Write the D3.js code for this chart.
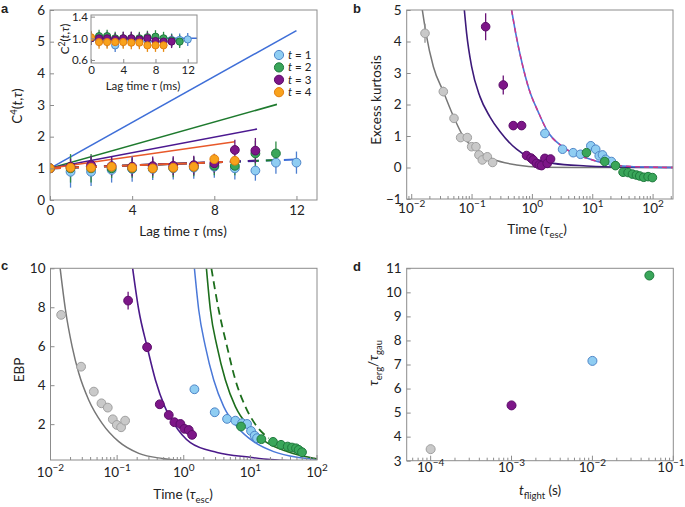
<!DOCTYPE html>
<html><head><meta charset="utf-8">
<script src="https://cdn.jsdelivr.net/npm/d3@7"></script>
<style>body{margin:0;background:#fff} text{font-family:Lato,"Open Sans",sans-serif;fill:#222}</style>
</head><body><svg id="c" width="685" height="507"></svg>
<script>
// ---------- Panel a data ----------
const lagTicks = [0,4,8,12];
const c4Ticks = [0,1,2,3,4,5,6];
const lagT1 = [0,1,2,3,4,5,6,7,8,9,10,11,12];
const c4T1 = [1.0,0.89,0.89,0.95,0.98,0.98,1.0,1.02,1.05,1.0,0.93,1.18,1.18];
const errT1 = [0,0.5,0.45,0.4,0.4,0.35,0.35,0.35,0.35,0.35,0.32,0.35,0.35];
const lagT2 = [0,1,2,3,4,5,6,7,8,9,10,11];
const c4T2 = [1.0,1.0,1.0,1.0,1.0,1.0,1.02,1.05,1.08,1.08,1.47,1.47];
const errT2 = [0,0.45,0.45,0.3,0.3,0.3,0.3,0.3,0.3,0.3,0.4,0.38];
const lagT3 = [0,1,2,3,4,5,6,7,8,9,10];
const c4T3 = [1.0,1.05,1.1,1.07,1.05,1.07,1.08,1.1,1.16,1.58,1.56];
const errT3 = [0,0.25,0.3,0.3,0.3,0.3,0.3,0.3,0.3,0.32,0.4];
const lagT4 = [0,1,2,3,4,5,6,7,8,9];
const c4T4 = [1.0,1.02,1.02,1.05,1.02,1.0,1.02,1.05,1.29,1.24];
const errT4 = [0,0.15,0.15,0.15,0.15,0.15,0.15,0.15,0.15,0.15];
// fitted straight lines (solid) and dashed lines: [x,y] end points
const fitT1 = [[0,1],[12,5.35]], fitT2 = [[0,1],[11.05,3.02]], fitT3 = [[0,1],[10.08,2.24]], fitT4 = [[0,1],[9,1.84]];
const dashT1 = [[0,1],[12,1.28]], dashT2 = [[0,1],[11,1.26]], dashT3 = [[0,1],[10,1.24]], dashT4 = [[0,1],[9,1.21]];
const legendLabels = ["1","2","3","4"];
// inset
const insetYTicks = [0.6,1.0,1.4];
const c2T1 = [1.0,0.97,0.95,0.87,0.95,0.97,0.95,0.95,0.95,0.93,0.97,0.97,0.98];
const c2T2 = [1.0,1.04,1.04,1.0,1.0,1.0,1.0,1.02,1.03,1.0,0.96,0.94];
const c2T3 = [1.0,1.0,1.0,0.98,1.0,1.0,0.98,1.0,0.95,0.94,0.94];
const c2T4 = [1.02,0.93,0.93,0.93,0.93,0.92,0.92,0.87,0.87,0.87];
const c2Err = 0.12;
const c2Ref = [[0,1.0],[13.15,1.0]];

// ---------- Panel b data: [time, kurtosis, err] ----------
const kurtYTicks = [-1,0,1,2,3,4,5];
const kurtGray = [[0.0166,4.26,0.3],[0.0334,2.41,0.15],[0.0502,1.56,0],[0.0647,0.95,0],[0.0834,0.95,0],[0.0984,0.66,0],[0.116,0.66,0],[0.130,0.40,0],[0.148,0.24,0],[0.179,0.34,0],[0.219,0.16,0]];
const kurtPurple = [[0.168,4.47,0.43],[0.329,2.62,0.3],[0.482,1.33,0],[0.662,1.33,0],[0.80,0.38,0],[0.95,0.3,0],[1.03,0.24,0],[1.17,0.13,0],[1.3,0.08,0],[1.42,0.06,0],[1.61,0.29,0],[1.76,0.13,0],[2.0,0.27,0]];
const kurtBlue = [[1.61,1.08,0],[3.16,0.58,0],[4.74,0.47,0],[6.27,0.42,0],[9.29,0.69,0],[11.2,0.58,0],[12.8,0.37,0],[14.5,0.40,0],[16.4,0.26,0],[20.4,0.19,0]];
const kurtGreen = [[7.87,0.47,0],[15.8,0.19,0],[23.8,0.06,0],[31.8,-0.15,0],[38.5,-0.16,0],[45.5,-0.21,0],[53.0,-0.24,0],[60.1,-0.27,0],[70,-0.31,0],[82.6,-0.29,0],[97.5,-0.32,0]];
const kurtCurveGray = [[0.0150,5.0],[0.01726,4.26],[0.02286,3.2],[0.03342,2.41],[0.0508,1.56],[0.0716,0.98],[0.119,0.56],[0.2244,0.26],[0.547,0.08],[1.33,0.01],[10,0],[214,0]];
const kurtCurvePurple = [[0.0745,5.0],[0.0813,4.26],[0.0984,3.2],[0.1352,2.25],[0.1977,1.61],[0.2897,1.14],[0.547,0.58],[0.80,0.37],[1.17,0.26],[2.21,0.13],[7.87,0.05],[28.1,0.01],[214,0]];
const kurtCurveBlue = [[0.4519,5.0],[0.5495,4.1],[0.6761,3.3],[0.8913,2.45],[1.259,1.75],[1.778,1.15],[3.162,0.66],[7.943,0.3],[15.85,0.13],[31.62,0.05],[100,0.01],[214,0]];

// ---------- Panel c data: [time, EBP, err] ----------
const ebpYTicks = [2,4,6,8,10];
const ebpGray = [[0.01445,7.61,0],[0.0288,4.95,0],[0.0447,3.67,0],[0.0582,3.07,0],[0.0724,2.85,0],[0.0861,2.25,0],[0.0989,1.96,0],[0.1148,1.84,0],[0.1318,2.18,0]];
const ebpPurple = [[0.1462,8.34,0.45],[0.2818,5.95,0],[0.4365,3.02,0],[0.5957,2.47,0],[0.7244,2.10,0],[0.8913,2.01,0],[1.023,1.76,0],[1.189,1.70,0],[1.334,1.45,0]];
const ebpBlue = [[1.445,3.79,0],[2.917,2.61,0],[4.467,2.27,0],[5.957,2.18,0],[7.499,2.05,0],[8.913,2.01,0],[10.23,1.65,0],[11.61,1.41,0],[12.59,1.28,0]];
const ebpGreen = [[7.244,1.88,0],[14.62,1.23,0],[21.88,1.09,0],[28.84,0.94,0],[36.31,0.85,0],[42.17,0.80,0],[48.42,0.76,0],[53.09,0.68,0],[59.57,0.56,0]];
const ebpCurveGray = [[0.01396,10],[0.01679,7.86],[0.02113,5.98],[0.02661,4.61],[0.03758,3.23],[0.05957,2.04],[0.1059,1.1],[0.2113,0.5],[0.4732,0.24],[1.0,0.14],[100,0.05]];
const ebpCurvePurple = [[0.171,10],[0.2113,7.86],[0.2818,5.98],[0.3758,4.27],[0.5188,2.9],[0.7079,2.04],[1.259,1.05],[3.162,0.55],[10,0.3],[20,0.18],[100,0.08]];
const ebpCurveBlue = [[1.445,10],[1.679,7.86],[2.113,5.98],[2.818,4.27],[3.981,2.9],[6.31,1.87],[11.22,1.1],[22.39,0.59],[50.1,0.3],[100,0.2]];
const ebpCurveGreen = [[2.188,10],[2.512,7.86],[3.162,5.98],[4.217,4.27],[5.957,2.9],[9.441,1.87],[16.79,1.1],[35.48,0.59],[89.1,0.25],[100,0.22]];
const ebpCurveGreenDash = [[2.6,10],[3.35,7.86],[4.467,5.98],[5.957,4.27],[8.414,2.9],[12.59,1.87],[18.84,1.28]];

// ---------- Panel d data ----------
const flightTimes = [1e-4, 1e-3, 1e-2, 0.0506];
const ergRatio = [3.48, 5.3, 7.15, 10.7];
const ratioYTicks = [3,4,5,6,7,8,9,10,11];

// ---------- styles ----------
const C = {
  blue:{f:"#8fcdf2",s:"#4f86c8",e:"#4d7fd0",l:"#3f6fd8"},
  green:{f:"#3aa65a",s:"#1f7a3d",e:"#2e8b45",l:"#1e7a2e"},
  purple:{f:"#7d1688",s:"#5c0d6a",e:"#6a1478",l:"#4b1890"},
  orange:{f:"#f9a21c",s:"#e27e10",e:"#e88a10",l:"#e8592a"},
  gray:{f:"#c9c9c9",s:"#a0a0a0",e:"#909090",l:"#777777"}
};
const AX = "#8c8c8c";
const svg = d3.select("#c");
let clipId = 0;

function frame(g, x, y){
  const [x0,x1] = x.range(), [y0,y1] = y.range();
  g.append("rect").attr("x",Math.min(x0,x1)).attr("y",Math.min(y0,y1))
    .attr("width",Math.abs(x1-x0)).attr("height",Math.abs(y1-y0))
    .attr("fill","none").attr("stroke",AX).attr("stroke-width",1);
}
function clip(g, x, y){
  const id = "clip"+(clipId++);
  const [x0,x1] = x.range(), [y0,y1] = y.range();
  g.append("clipPath").attr("id",id).append("rect").attr("x",Math.min(x0,x1)).attr("y",Math.min(y0,y1))
    .attr("width",Math.abs(x1-x0)).attr("height",Math.abs(y1-y0));
  return g.append("g").attr("clip-path",`url(#${id})`);
}
function styleAxis(sel, fs){
  sel.select(".domain").remove();
  sel.selectAll(".tick line").attr("stroke",AX);
  sel.selectAll(".tick text").attr("font-size",fs).attr("fill","#222").style("font-family","Lato,'Open Sans',sans-serif");
}
function yAxis(g, x, y, ticks, fmt, fs, pad){
  const a = g.append("g").attr("transform",`translate(${x.range()[0]},0)`)
    .call(d3.axisLeft(y).tickValues(ticks).tickFormat(fmt).tickSize(-4).tickPadding(pad));
  styleAxis(a, fs);
}
function xAxisLin(g, x, y, ticks, fs, pad){
  const a = g.append("g").attr("transform",`translate(0,${y.range()[0]})`)
    .call(d3.axisBottom(x).tickValues(ticks).tickSize(-4).tickPadding(pad));
  styleAxis(a, fs);
}
function xAxisLog(g, x, y, decades, labelY, maxRight){
  const y0 = y.range()[0];
  const [d0,d1] = x.domain();
  const minor = [];
  for(let e=Math.floor(Math.log10(d0)); e<=Math.ceil(Math.log10(d1)); e++){
    for(let k=2;k<=9;k++){ const v=k*Math.pow(10,e); if(v>=d0 && v<=d1) minor.push(v); }
  }
  g.selectAll(null).data(minor).enter().append("line")
    .attr("x1",d=>x(d)).attr("x2",d=>x(d)).attr("y1",y0).attr("y2",y0-3).attr("stroke",AX);
  g.selectAll(null).data(decades).enter().append("line")
    .attr("x1",d=>x(Math.pow(10,d))).attr("x2",d=>x(Math.pow(10,d))).attr("y1",y0).attr("y2",y0-5).attr("stroke",AX);
  decades.forEach(d=>{
    let px = x(Math.pow(10,d));
    if(maxRight && px + 13 > maxRight) px = maxRight - 13;
    const t = g.append("text").attr("x",px).attr("y",labelY).attr("text-anchor","middle").attr("font-size",13.5);
    t.append("tspan").text("10");
    t.append("tspan").attr("dy",-6).attr("font-size",10).text(d<0?"\u2212"+(-d):String(d));
  });
}
function errBars(g, x, y, pts, color){
  g.selectAll(null).data(pts.filter(p=>p[2]>0)).enter().append("line")
    .attr("x1",p=>x(p[0])).attr("x2",p=>x(p[0])).attr("y1",p=>y(p[1]-p[2])).attr("y2",p=>y(p[1]+p[2]))
    .attr("stroke",color).attr("stroke-width",1.3);
}
function dots(g, x, y, pts, col, r){
  g.selectAll(null).data(pts).enter().append("circle")
    .attr("cx",p=>x(p[0])).attr("cy",p=>y(p[1])).attr("r",r)
    .attr("fill",col.f).attr("stroke",col.s).attr("stroke-width",1);
}
function curve(g, x, y, pts, color, w, dash){
  const p = g.append("path").attr("d",d3.line().x(d=>x(d[0])).y(d=>y(d[1])).curve(d3.curveMonotoneX)(pts))
    .attr("fill","none").attr("stroke",color).attr("stroke-width",w);
  if(dash) p.attr("stroke-dasharray",dash);
}
function panelLetter(x,y,t){
  svg.append("text").attr("x",x).attr("y",y).text(t).attr("font-size",13).attr("font-weight","bold")
    .style("font-family","'Liberation Sans',Arial,sans-serif").attr("fill","#111");
}
function zip(xs, ys, es){ return xs.map((v,i)=>[v, ys[i], es ? (Array.isArray(es)?es[i]:es) : 0]); }

// ================= Panel a =================
{
  const g = svg.append("g");
  const x = d3.scaleLinear().domain([0,13]).range([50,317]);
  const y = d3.scaleLinear().domain([0,6]).range([200,10]);
  const series = [
    {pts:zip(lagT1,c4T1,errT1), col:C.blue, fit:fitT1, dash:dashT1},
    {pts:zip(lagT2,c4T2,errT2), col:C.green, fit:fitT2, dash:dashT2},
    {pts:zip(lagT3,c4T3,errT3), col:C.purple, fit:fitT3, dash:dashT3},
    {pts:zip(lagT4,c4T4,errT4), col:C.orange, fit:fitT4, dash:dashT4}
  ];
  const lg = clip(g, x, y);
  series.forEach(s=>curve(lg, x, y, s.fit, s.col.l, 1.6));
  series.forEach(s=>curve(lg, x, y, s.dash, s.col.l, 2, "11,7"));
  series.forEach(s=>errBars(lg, x, y, s.pts, s.col.e));
  series.forEach(s=>dots(lg, x, y, s.pts, s.col, 4.4));
  frame(g, x, y);
  yAxis(g, x, y, c4Ticks, d3.format("d"), 13.5, 5);
  xAxisLin(g, x, y, lagTicks, 13.5, 5);
  g.append("text").attr("x",183).attr("y",236).attr("text-anchor","middle").attr("font-size",13.5)
    .html('Lag time <tspan font-style="italic">τ</tspan> (ms)');
  g.append("text").attr("transform","translate(22,106) rotate(-90)").attr("text-anchor","middle").attr("font-size",13.5)
    .html('C<tspan dy="-5" font-size="9.5">4</tspan><tspan dy="5">(</tspan><tspan font-style="italic">t</tspan>,<tspan font-style="italic">τ</tspan>)');
  // legend
  const lcols = [C.blue,C.green,C.purple,C.orange];
  legendLabels.forEach((l,i)=>{
    const yy = 55 + i*12.4;
    g.append("circle").attr("cx",279).attr("cy",yy).attr("r",4.6).attr("fill",lcols[i].f).attr("stroke",lcols[i].s);
    g.append("text").attr("x",288).attr("y",yy+4).attr("font-size",11.5)
      .html('<tspan font-style="italic">t</tspan> = '+l);
  });
  // inset
  const ix = d3.scaleLinear().domain([0,13.15]).range([91,197]);
  const iy = d3.scaleLinear().domain([0.545,1.43]).range([63,15]);
  const ig = g.append("g");
  const icl = clip(ig, ix, iy);
  curve(icl, ix, iy, c2Ref, C.blue.l, 1.5);
  const iser = [
    {pts:zip(lagT1,c2T1,c2Err), col:C.blue},
    {pts:zip(lagT2,c2T2,c2Err), col:C.green},
    {pts:zip(lagT3,c2T3,c2Err), col:C.purple},
    {pts:zip(lagT4,c2T4,c2Err), col:C.orange}
  ];
  iser.forEach(s=>errBars(icl, ix, iy, s.pts, s.col.e));
  iser.forEach(s=>dots(icl, ix, iy, s.pts, s.col, 3.6));
  frame(ig, ix, iy);
  yAxis(ig, ix, iy, insetYTicks, d3.format(".1f"), 11.5, 3);
  xAxisLin(ig, ix, iy, lagTicks, 11.5, 3);
  ig.append("text").attr("x",143).attr("y",90).attr("text-anchor","middle").attr("font-size",11.5)
    .html('Lag time <tspan font-style="italic">τ</tspan> (ms)');
  ig.append("text").attr("transform","translate(69,39) rotate(-90)").attr("text-anchor","middle").attr("font-size",11.5)
    .html('C<tspan dy="-4" font-size="8.5">2</tspan><tspan dy="4">(</tspan><tspan font-style="italic">t</tspan>,<tspan font-style="italic">τ</tspan>)');
}

// ================= Panel b =================
{
  const g = svg.append("g");
  const x = d3.scaleLog().domain([Math.pow(10,-2.083), Math.pow(10,2.33)]).range([406.7,673]);
  const y = d3.scaleLinear().domain([-1,5]).range([199,10]);
  const cg = clip(g, x, y);
  curve(cg, x, y, kurtCurveGray, C.gray.l, 1.5);
  curve(cg, x, y, kurtCurvePurple, "#3d1a7a", 1.6);
  curve(cg, x, y, kurtCurveBlue, "#4a78d8", 1.6);
  curve(cg, x, y, kurtCurveBlue, "#d6338a", 1.4, "5,4");
  errBars(cg, x, y, kurtGray, C.gray.e);
  errBars(cg, x, y, kurtPurple, C.purple.e);
  dots(cg, x, y, kurtGray, C.gray, 4.3);
  dots(cg, x, y, kurtPurple, C.purple, 4.3);
  dots(cg, x, y, kurtBlue, C.blue, 4.3);
  dots(cg, x, y, kurtGreen, C.green, 4.3);
  frame(g, x, y);
  yAxis(g, x, y, kurtYTicks, d3.format("d"), 13.5, 5);
  xAxisLog(g, x, y, [-2,-1,0,1,2], 213);
  g.append("text").attr("transform","translate(381,100) rotate(-90)").attr("text-anchor","middle").attr("font-size",13.5).text("Excess kurtosis");
  g.append("text").attr("x",537).attr("y",234).attr("text-anchor","middle").attr("font-size",13.5)
    .html('Time (<tspan font-style="italic">τ</tspan><tspan dy="4" font-size="9.5">esc</tspan><tspan dy="-4">)</tspan>');
}

// ================= Panel c =================
{
  const g = svg.append("g");
  const x = d3.scaleLog().domain([0.01,100]).range([50.5,317]);
  const y = d3.scaleLinear().domain([0.16,10]).range([460,268.3]);
  const cg = clip(g, x, y);
  curve(cg, x, y, ebpCurveGray, C.gray.l, 1.5);
  curve(cg, x, y, ebpCurvePurple, "#4b1a8a", 1.6);
  curve(cg, x, y, ebpCurveBlue, "#4a78d8", 1.5);
  curve(cg, x, y, ebpCurveGreen, "#1d6e1d", 1.6);
  curve(cg, x, y, ebpCurveGreenDash, "#1d6e1d", 1.8, "8,5");
  errBars(cg, x, y, ebpPurple, C.purple.e);
  dots(cg, x, y, ebpGray, C.gray, 4.4);
  dots(cg, x, y, ebpPurple, C.purple, 4.4);
  dots(cg, x, y, ebpBlue, C.blue, 4.4);
  dots(cg, x, y, ebpGreen, C.green, 4.4);
  frame(g, x, y);
  yAxis(g, x, y, ebpYTicks, d3.format("d"), 13.5, 5);
  xAxisLog(g, x, y, [-2,-1,0,1,2], 477);
  g.append("text").attr("transform","translate(24,370) rotate(-90)").attr("text-anchor","middle").attr("font-size",13.5).text("EBP");
  g.append("text").attr("x",183).attr("y",499).attr("text-anchor","middle").attr("font-size",13.5)
    .html('Time (<tspan font-style="italic">τ</tspan><tspan dy="4" font-size="9.5">esc</tspan><tspan dy="-4">)</tspan>');
}

// ================= Panel d =================
{
  const g = svg.append("g");
  const x = d3.scaleLog().domain([Math.pow(10,-4.296), 0.1]).range([406.7,673.3]);
  const y = d3.scaleLinear().domain([3,11]).range([460.7,268.3]);
  const pts = flightTimes.map((t,i)=>[t, ergRatio[i]]);
  const cols = [C.gray, C.purple, C.blue, C.green];
  const cg = clip(g, x, y);
  cg.selectAll(null).data(pts).enter().append("circle")
    .attr("cx",p=>x(p[0])).attr("cy",p=>y(p[1])).attr("r",4.5)
    .attr("fill",(p,i)=>cols[i].f).attr("stroke",(p,i)=>cols[i].s);
  frame(g, x, y);
  yAxis(g, x, y, ratioYTicks, d3.format("d"), 13.5, 5);
  xAxisLog(g, x, y, [-4,-3,-2,-1], 472, 684);
  g.append("text").attr("transform","translate(378,363) rotate(-90)").attr("text-anchor","middle").attr("font-size",13.5)
    .html('<tspan font-style="italic">τ</tspan><tspan dy="4" font-size="9.5">erg</tspan><tspan dy="-4">/</tspan><tspan font-style="italic">τ</tspan><tspan dy="4" font-size="9.5">gau</tspan>');
  g.append("text").attr("x",540).attr("y",495).attr("text-anchor","middle").attr("font-size",13.5)
    .html('<tspan font-style="italic">t</tspan><tspan dy="4" font-size="9.5">flight</tspan><tspan dy="-4"> (s)</tspan>');
}

panelLetter(1,13,"a");
panelLetter(353,13,"b");
panelLetter(1,270,"c");
panelLetter(353,271,"d");
</script></body></html>
